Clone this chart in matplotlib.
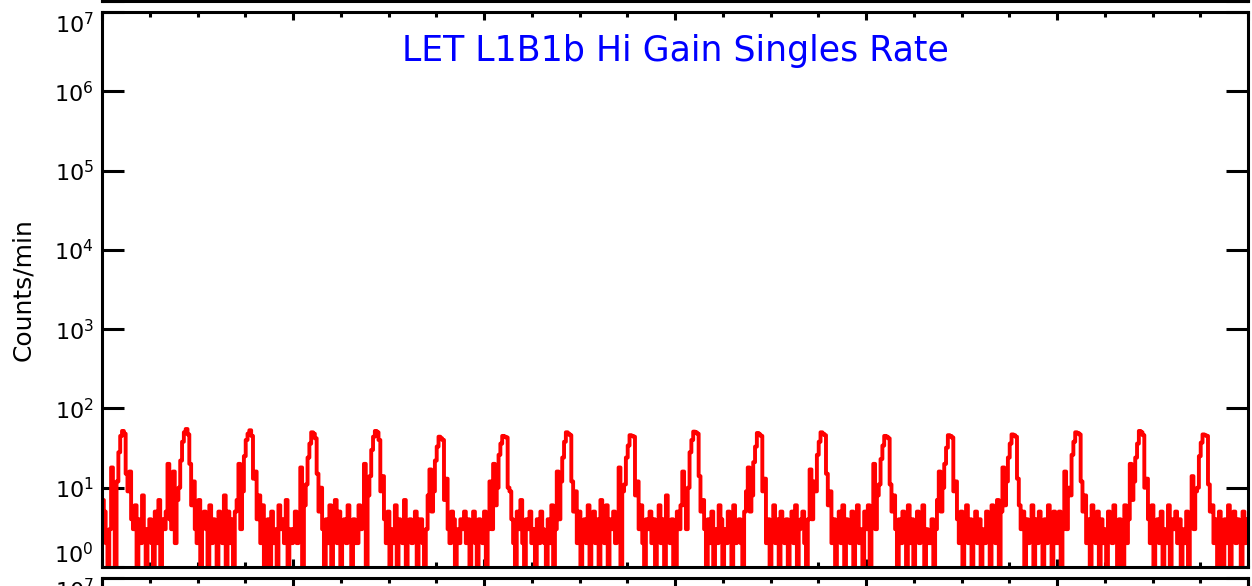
import numpy as np
import matplotlib
matplotlib.use("Agg")
import matplotlib.pyplot as plt
from matplotlib.ticker import MultipleLocator, NullFormatter

# Chart text
title = "LET L1B1b Hi Gain Singles Rate"
ylabel = "Counts/min"
decades = [1e0, 1e1, 1e2, 1e3, 1e4, 1e5, 1e6, 1e7]
decade_labels = [r"$\mathdefault{10^{%d}}$" % k for k in range(8)]

# Singles counts, one row per spin-like cycle (35 samples each)
counts = [
    7, 5, 2, 1, 3, 18, 6, 1, 12, 28, 45, 52, 48, 15, 9, 16, 4, 3, 6, 1, 4, 2, 8, 3, 1, 3, 4, 2, 1, 5, 2, 7, 1, 4, 3,
    5, 20, 4, 3, 16, 2, 7, 10, 22, 38, 50, 55, 47, 20, 6, 12, 3, 2, 7, 1, 4, 5, 3, 1, 6, 2, 4, 3, 1, 5, 3, 2, 8, 1, 5,
    2, 4, 1, 5, 7, 20, 3, 9, 25, 40, 48, 53, 45, 13, 16, 4, 8, 2, 6, 1, 3, 4, 1, 5, 2, 3, 1, 6, 3, 4, 2, 7, 1, 3, 2,
    3, 5, 2, 4, 18, 1, 6, 11, 24, 36, 50, 48, 42, 15, 5, 10, 3, 1, 4, 2, 6, 1, 3, 7, 2, 5, 1, 3, 4, 2, 6, 3, 1, 4, 2,
    2, 6, 3, 5, 20, 1, 8, 14, 30, 44, 52, 50, 40, 9, 14, 4, 2, 5, 1, 3, 2, 6, 1, 4, 3, 2, 7, 1, 3, 4, 2, 3, 5, 1, 4,
    4, 2, 1, 3, 8, 17, 5, 9, 22, 33, 44, 42, 40, 7, 13, 3, 2, 5, 4, 1, 3, 2, 4, 3, 5, 2, 4, 1, 3, 5, 2, 1, 4, 3, 2,
    5, 1, 3, 12, 3, 20, 6, 10, 26, 36, 45, 44, 43, 10, 9, 4, 2, 1, 5, 3, 7, 2, 1, 4, 3, 5, 2, 3, 1, 4, 2, 5, 3, 2, 1,
    4, 2, 6, 1, 3, 16, 4, 12, 24, 38, 50, 48, 46, 12, 5, 9, 2, 5, 1, 3, 4, 2, 6, 1, 3, 5, 2, 4, 1, 7, 5, 2, 6, 1, 4,
    3, 5, 2, 4, 18, 1, 9, 11, 24, 34, 46, 45, 44, 8, 12, 3, 6, 2, 1, 4, 3, 5, 2, 4, 1, 3, 6, 2, 4, 1, 8, 3, 2, 4, 1,
    1, 5, 3, 6, 16, 6, 3, 10, 28, 40, 51, 50, 48, 14, 5, 7, 3, 1, 4, 2, 5, 1, 3, 2, 6, 4, 1, 3, 2, 5, 4, 1, 6, 2, 3,
    4, 2, 1, 5, 9, 18, 5, 8, 21, 33, 49, 47, 45, 9, 13, 2, 4, 1, 3, 6, 2, 4, 1, 5, 3, 2, 4, 1, 3, 5, 2, 6, 1, 3, 4,
    5, 2, 1, 4, 17, 4, 12, 9, 26, 38, 50, 48, 46, 15, 6, 9, 2, 4, 1, 3, 5, 2, 6, 1, 4, 3, 2, 5, 1, 4, 6, 2, 3, 1, 5,
    3, 6, 1, 4, 20, 3, 8, 11, 23, 34, 45, 44, 42, 11, 5, 8, 3, 1, 4, 2, 5, 3, 1, 6, 2, 4, 1, 3, 5, 2, 4, 6, 1, 3, 2,
    2, 4, 1, 3, 7, 16, 5, 10, 20, 32, 46, 45, 43, 9, 12, 4, 2, 5, 1, 3, 6, 2, 4, 1, 3, 5, 2, 4, 1, 3, 2, 5, 4, 1, 6,
    4, 2, 7, 1, 5, 18, 6, 12, 24, 36, 47, 46, 44, 13, 6, 3, 5, 1, 4, 2, 3, 6, 1, 4, 2, 5, 3, 1, 4, 2, 6, 3, 1, 5, 2,
    2, 5, 1, 3, 16, 3, 10, 8, 26, 38, 50, 49, 47, 12, 5, 8, 2, 4, 1, 6, 3, 2, 5, 1, 4, 2, 3, 1, 5, 4, 2, 6, 3, 1, 4,
    3, 1, 6, 2, 4, 20, 7, 12, 24, 36, 52, 50, 46, 10, 13, 4, 2, 6, 1, 3, 4, 2, 5, 1, 3, 2, 6, 1, 4, 3, 5, 2, 4, 1, 3,
    2, 5, 1, 4, 14, 3, 9, 10, 25, 37, 47, 46, 45, 11, 5, 6, 2, 4, 1, 5, 3, 1, 4, 2, 6, 1, 3, 5, 2, 4, 3, 1, 5, 2, 4,
]

hours = 24.0
counts = np.array(counts + counts[-1:], dtype=float)
t = np.linspace(0, hours, len(counts))


def style_axes(ax, shown=(), ends=(0, 7)):
    ax.set_yscale("log")
    ax.set_ylim(1, 1e7)
    ax.set_xlim(0, hours)
    labels = [lab if k in shown else "" for k, lab in enumerate(decade_labels)]
    ax.set_yticks(decades, labels)
    ax.yaxis.set_minor_locator(matplotlib.ticker.NullLocator())
    ax.xaxis.set_major_locator(MultipleLocator(4))
    ax.xaxis.set_minor_locator(MultipleLocator(1))
    ax.xaxis.set_major_formatter(NullFormatter())
    ax.tick_params(axis="y", which="major", direction="in", length=16, width=2.2,
                   left=True, right=True, labelsize=16, pad=6)
    ax.tick_params(axis="x", which="major", direction="in", length=6, width=2.2,
                   top=True, bottom=True)
    ax.tick_params(axis="x", which="minor", direction="in", length=3.5, width=2.2,
                   top=True, bottom=True)
    for s in ax.spines.values():
        s.set_linewidth(2.2)
    # end labels sit inside the panel, as in the original
    if 7 in ends:
        ax.annotate(decade_labels[7], xy=(0, 1), xycoords="axes fraction",
                    xytext=(-6, 0), textcoords="offset points",
                    ha="right", va="top", fontsize=16)
    if 0 in ends:
        ax.annotate(decade_labels[0], xy=(0, 0), xycoords="axes fraction",
                    xytext=(-6, 0), textcoords="offset points",
                    ha="right", va="bottom", fontsize=16)


fig = plt.figure(figsize=(12.52, 5.86), dpi=100)
left, width = 102 / 1252, 1146 / 1252
bottom, height = 19 / 586, 555 / 586

# neighbouring panels, only their edges show
ax_top = fig.add_axes([left, 585 / 586, width, height])
style_axes(ax_top, ends=(0,))
ax_bot = fig.add_axes([left, 8 / 586 - height, width, height])
style_axes(ax_bot, ends=(7,))

ax = fig.add_axes([left, bottom, width, height])
style_axes(ax, shown=range(1, 7))

ax.step(t, counts, where="post", color="red", lw=2.8)
ax.set_ylabel(ylabel, fontsize=18, labelpad=14)
ax.text(0.5, 0.93, title, transform=ax.transAxes, ha="center", va="center",
        color="blue", fontsize=25)

fig.savefig("out.png", dpi=100)
